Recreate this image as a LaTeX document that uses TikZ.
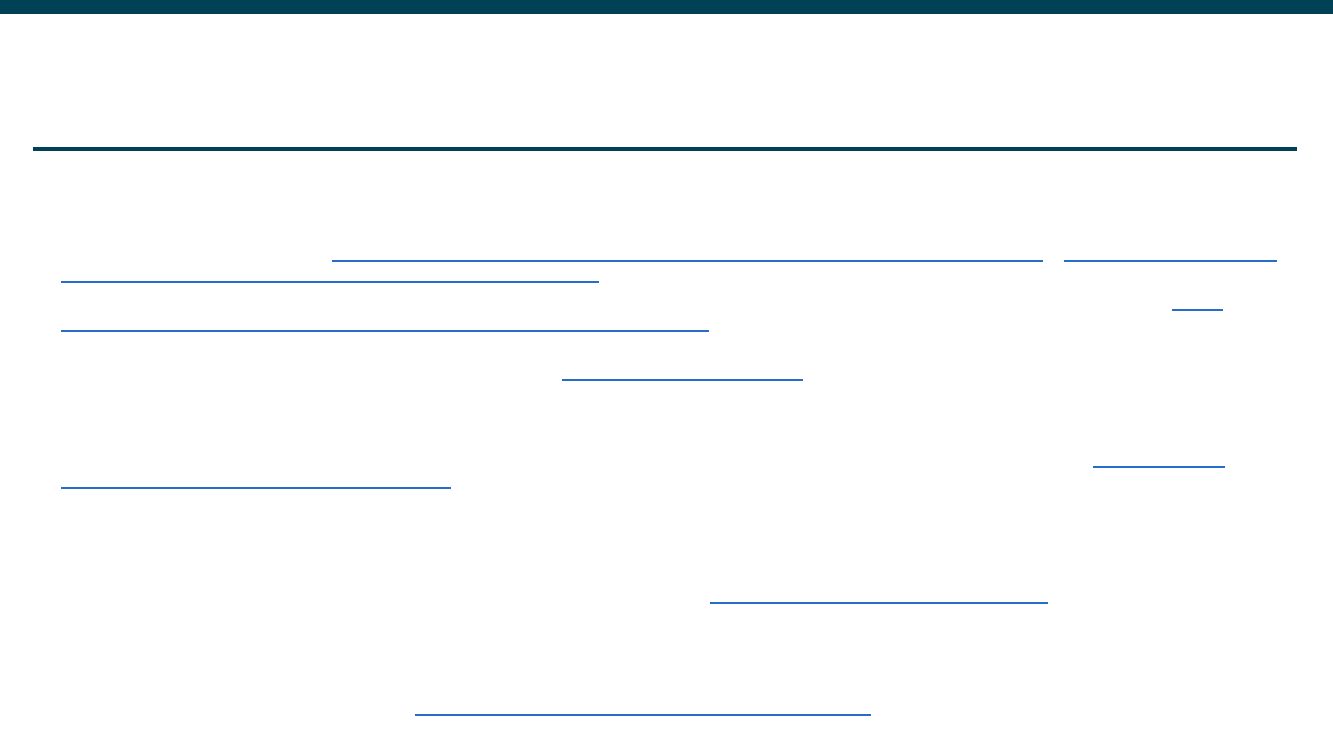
\documentclass[tikz,border=0pt]{standalone}
\usepackage{tikz}
\definecolor{barra}{RGB}{0,65,85}
\definecolor{linkazul}{RGB}{38,108,200}

\begin{document}
\begin{tikzpicture}[x=0.02cm, y=-0.02cm,
        link/.style={draw=linkazul, line width=1.1pt}]
        \useasboundingbox (0,0) rectangle (1333,750);

        % Faixa superior
        \fill[barra] (0,0) rectangle (1333,14);

        % Linha do titulo
        \fill[barra] (33,147) rectangle (1297,151);

        % Links
        \draw[link] (332,261) -- (1043,261);
        \draw[link] (1064,261) -- (1277,261);
        \draw[link] (61,282) -- (599,282);
        \draw[link] (1172,310) -- (1223,310);
        \draw[link] (61,331) -- (709,331);
        \draw[link] (562,380) -- (803,380);
        \draw[link] (1093,467) -- (1225,467);
        \draw[link] (61,488) -- (451,488);
        \draw[link] (710,603) -- (1048,603);
        \draw[link] (415,715) -- (871,715);
    \end{tikzpicture}
\end{document}
